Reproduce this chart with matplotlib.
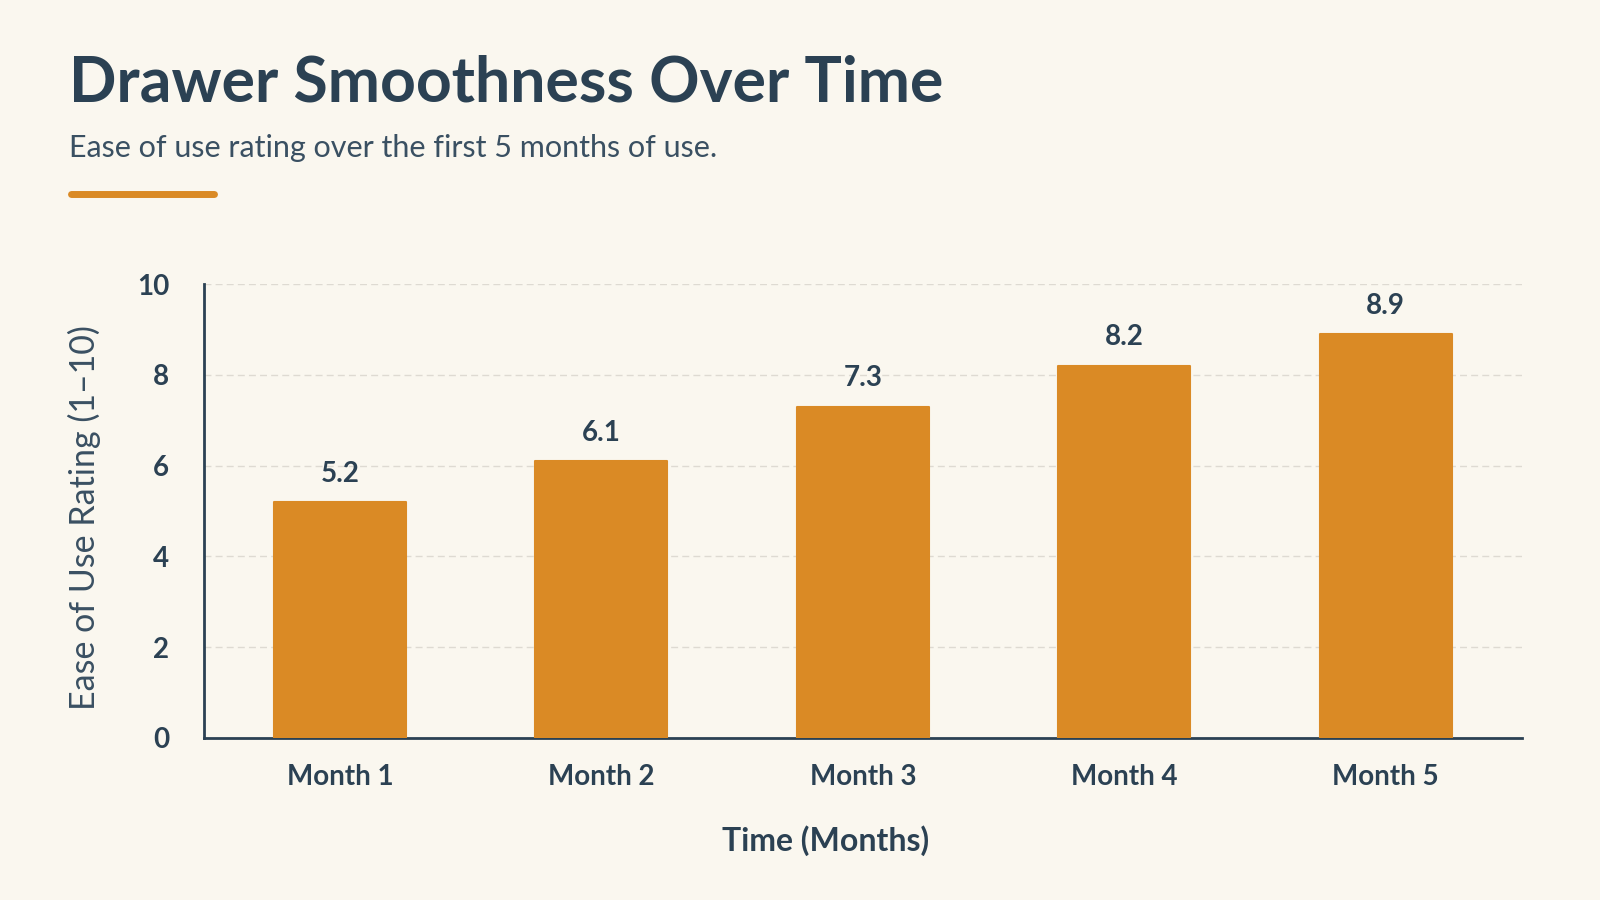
import matplotlib
matplotlib.use("Agg")
import matplotlib.pyplot as plt
from matplotlib.lines import Line2D

months = ["Month 1", "Month 2", "Month 3", "Month 4", "Month 5"]
ratings = [5.2, 6.1, 7.3, 8.2, 8.9]
y_ticks = [0, 2, 4, 6, 8, 10]

title = "Drawer Smoothness Over Time"
subtitle = "Ease of use rating over the first 5 months of use."
x_label = "Time (Months)"
y_label = "Ease of Use Rating (1\u201310)"

BG = "#FAF7EF"
TEXT = "#2B4153"
SUB = "#3A5062"
BAR = "#DA8A25"
GRID = "#DEDAD2"

plt.rcParams['font.family'] = ['Lato', 'DejaVu Sans']

fig = plt.figure(figsize=(16, 9), dpi=100, facecolor=BG)
ax = fig.add_axes([0.1275, 0.18, 0.8235, 0.5044])
ax.set_facecolor(BG)

x = list(range(len(months)))
bars = ax.bar(x, ratings, width=0.505, color=BAR, edgecolor=BAR, linewidth=1.5,
              joinstyle="round", zorder=3)
for xi, v in zip(x, ratings):
    ax.annotate(f"{v:.1f}", (xi, v), xytext=(0, 11), textcoords="offset points",
                ha="center", va="bottom", fontsize=20, fontweight="bold", color=TEXT)

ax.set_xlim(-0.52, 4.52)
ax.set_ylim(0, 10)
ax.set_yticks(y_ticks)
ax.set_xticks(x)
ax.set_xticklabels(months)
ax.tick_params(axis='both', length=0, colors=TEXT)
ax.tick_params(axis='y', labelsize=20, pad=25)
ax.tick_params(axis='x', labelsize=20, pad=19)
for lab in ax.get_xticklabels():
    lab.set_fontweight("bold")
for lab in ax.get_yticklabels():
    lab.set_fontweight("bold")

ax.grid(axis='y', color=GRID, linestyle=(0, (5, 3)), linewidth=1.0, zorder=0)
ax.grid(axis='x', visible=False)
for s in ["top", "right"]:
    ax.spines[s].set_visible(False)
for s in ["left", "bottom"]:
    ax.spines[s].set_color(TEXT)
    ax.spines[s].set_linewidth(2)

ax.set_xlabel(x_label, fontsize=23, fontweight="bold", color=TEXT, labelpad=25)
ax.xaxis.label.set_x(0.472)
ax.set_ylabel(y_label, fontsize=24.5, color=SUB, labelpad=26)
ax.yaxis.label.set_y(0.485)

fig.text(0.043, 0.887, title, fontsize=45, fontweight="bold", color=TEXT, va="baseline")
fig.text(0.043, 0.836, subtitle, fontsize=22, color=SUB, va="center")
fig.add_artist(Line2D([0.0445, 0.1335], [0.785, 0.785], color=BAR, linewidth=5,
                      solid_capstyle="round", transform=fig.transFigure))

fig.savefig("out.png", dpi=100, facecolor=BG)
